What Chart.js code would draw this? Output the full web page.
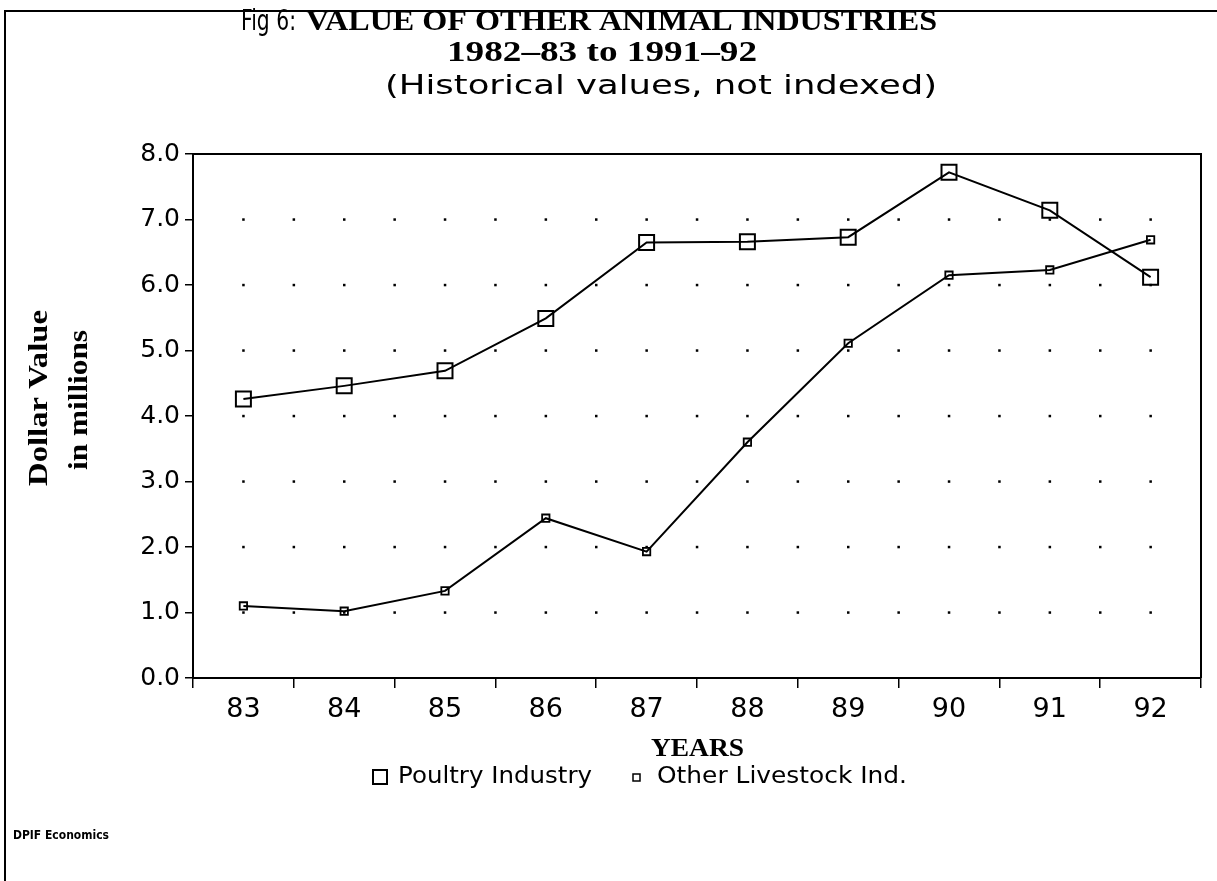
<!DOCTYPE html>
<html>
<head>
<meta charset="utf-8">
<title>Fig 6: Value of other animal industries</title>
<script src="https://cdn.jsdelivr.net/npm/chart.js@4/dist/chart.umd.min.js"></script>
<style>
    body { margin: 0; background: #fff; }
    #wrap { width: 1217px; height: 881px; position: relative; }
</style>
</head>
<body>
<div id="wrap"><canvas id="animalChart" width="1217" height="881"></canvas></div>
<script>
// data ($ millions)
const years = ['83', '84', '85', '86', '87', '88', '89', '90', '91', '92'];
const poultry = [4.26, 4.46, 4.69, 5.49, 6.65, 6.66, 6.73, 7.72, 7.14, 6.12];
const otherLivestock = [1.10, 1.02, 1.33, 2.44, 1.93, 3.60, 5.11, 6.15, 6.23, 6.69];
const yTicks = [0, 1, 2, 3, 4, 5, 6, 7, 8];

const sans = '"DejaVu Sans", sans-serif';
const serif = '"Liberation Serif", serif';

// draw text starting at x, stretched or squeezed to the given width
function fitText(ctx, text, x, y, width) {
    const w = ctx.measureText(text).width;
    ctx.save();
    ctx.translate(x, y);
    ctx.scale(width / w, 1);
    ctx.textAlign = 'left';
    ctx.fillText(text, 0, 0);
    ctx.restore();
}

// page decorations: titles, dotted grid, frame, legend
const decor = {
    id: 'decor',
    beforeDatasetsDraw(chart) {
        const ctx = chart.ctx;
        const x = chart.scales.x, y = chart.scales.y;
        ctx.save();
        ctx.fillStyle = '#000';
        // dot grid at category centres and half-way between them
        for (let v = 1; v < 8; v++) {
            const py = y.getPixelForValue(v);
            for (let i = 0; i < years.length; i++) {
                const px = x.getPixelForValue(i);
                ctx.fillRect(px - 1.2, py - 1.2, 2.5, 2.5);
                if (i < years.length - 1) {
                    const mid = (px + x.getPixelForValue(i + 1)) / 2;
                    ctx.fillRect(mid - 1.2, py - 1.2, 2.5, 2.5);
                }
            }
        }
        ctx.restore();
    },
    afterDraw(chart) {
        const ctx = chart.ctx;
        const a = chart.chartArea;
        ctx.save();
        ctx.strokeStyle = '#000';
        ctx.fillStyle = '#000';

        // top and right edges of the plot box
        ctx.lineWidth = 2;
        ctx.beginPath();
        ctx.moveTo(a.left, a.top);
        ctx.lineTo(a.right, a.top);
        ctx.lineTo(a.right, a.bottom);
        ctx.stroke();

        // page frame
        ctx.beginPath();
        ctx.moveTo(5, 881);
        ctx.lineTo(5, 11);
        ctx.lineTo(1217, 11);
        ctx.stroke();

        // titles
        ctx.textBaseline = 'middle';
        ctx.font = '28px ' + sans;
        fitText(ctx, 'Fig 6:', 241, 23, 55);
        ctx.font = 'bold 29px ' + serif;
        fitText(ctx, 'VALUE OF OTHER ANIMAL INDUSTRIES', 306, 23, 631);
        fitText(ctx, '1982\u201383 to 1991\u201392', 447, 54, 310);
        ctx.font = '27px ' + sans;
        fitText(ctx, '(Historical values, not indexed)', 385, 87, 552);

        // y axis title, two rotated lines
        ctx.font = 'bold 27px ' + serif;
        ctx.save();
        ctx.translate(40, 398);
        ctx.rotate(-Math.PI / 2);
        fitText(ctx, 'Dollar Value', -88, 0, 176);
        ctx.restore();
        ctx.save();
        ctx.translate(80, 400);
        ctx.rotate(-Math.PI / 2);
        fitText(ctx, 'in millions', -70, 0, 140);
        ctx.restore();

        // x axis title
        ctx.font = 'bold 26px ' + serif;
        fitText(ctx, 'YEARS', 651, 749, 93);

        // legend
        ctx.font = '23px ' + sans;
        ctx.lineWidth = 2;
        ctx.strokeRect(373, 770, 14, 14);
        fitText(ctx, 'Poultry Industry', 398, 777, 194);
        ctx.lineWidth = 1.5;
        ctx.strokeRect(633, 774, 7, 7);
        fitText(ctx, 'Other Livestock Ind.', 657, 777, 250);

        // footer
        ctx.font = 'bold 12px ' + sans;
        fitText(ctx, 'DPIF Economics', 13, 836, 96);
        ctx.restore();
    }
};

const ctx = document.getElementById('animalChart').getContext('2d');
const animalChart = new Chart(ctx, {
    type: 'line',
    data: {
        labels: years,
        datasets: [{
            label: 'Poultry Industry',
            data: poultry,
            borderColor: '#000',
            borderWidth: 2,
            pointStyle: 'rect',
            pointRadius: 10.6,
            pointBorderWidth: 2,
            pointBorderColor: '#000',
            pointBackgroundColor: 'rgba(0,0,0,0)',
            tension: 0
        }, {
            label: 'Other Livestock Ind.',
            data: otherLivestock,
            borderColor: '#000',
            borderWidth: 2,
            pointStyle: 'rect',
            pointRadius: 5.2,
            pointBorderWidth: 1.8,
            pointBorderColor: '#000',
            pointBackgroundColor: 'rgba(0,0,0,0)',
            tension: 0
        }]
    },
    options: {
        responsive: false,
        animation: false,
        layout: {
            padding: { top: 154, right: 16, bottom: 153, left: 0 }
        },
        plugins: {
            legend: { display: false },
            title: { display: false },
            tooltip: { enabled: false }
        },
        scales: {
            x: {
                offset: true,
                grid: {
                    offset: true,
                    drawOnChartArea: false,
                    drawTicks: true,
                    tickLength: 10,
                    color: '#000',
                    lineWidth: 1.5
                },
                border: { color: '#000', width: 2 },
                ticks: {
                    color: '#000',
                    padding: 6,
                    maxRotation: 0,
                    font: { family: sans, size: 27 }
                },
                afterFit(scale) { scale.height = 50; }
            },
            y: {
                min: 0,
                max: 8,
                afterBuildTicks(scale) {
                    scale.ticks = yTicks.map(v => ({ value: v }));
                },
                grid: {
                    drawOnChartArea: false,
                    drawTicks: true,
                    tickLength: 8,
                    color: '#000',
                    lineWidth: 1.5
                },
                border: { color: '#000', width: 2 },
                ticks: {
                    color: '#000',
                    padding: 5,
                    font: { family: sans, size: 25 },
                    callback: v => Number(v).toFixed(1)
                },
                afterFit(scale) { scale.width = 193; }
            }
        }
    },
    plugins: [decor]
});
</script>
</body>
</html>
